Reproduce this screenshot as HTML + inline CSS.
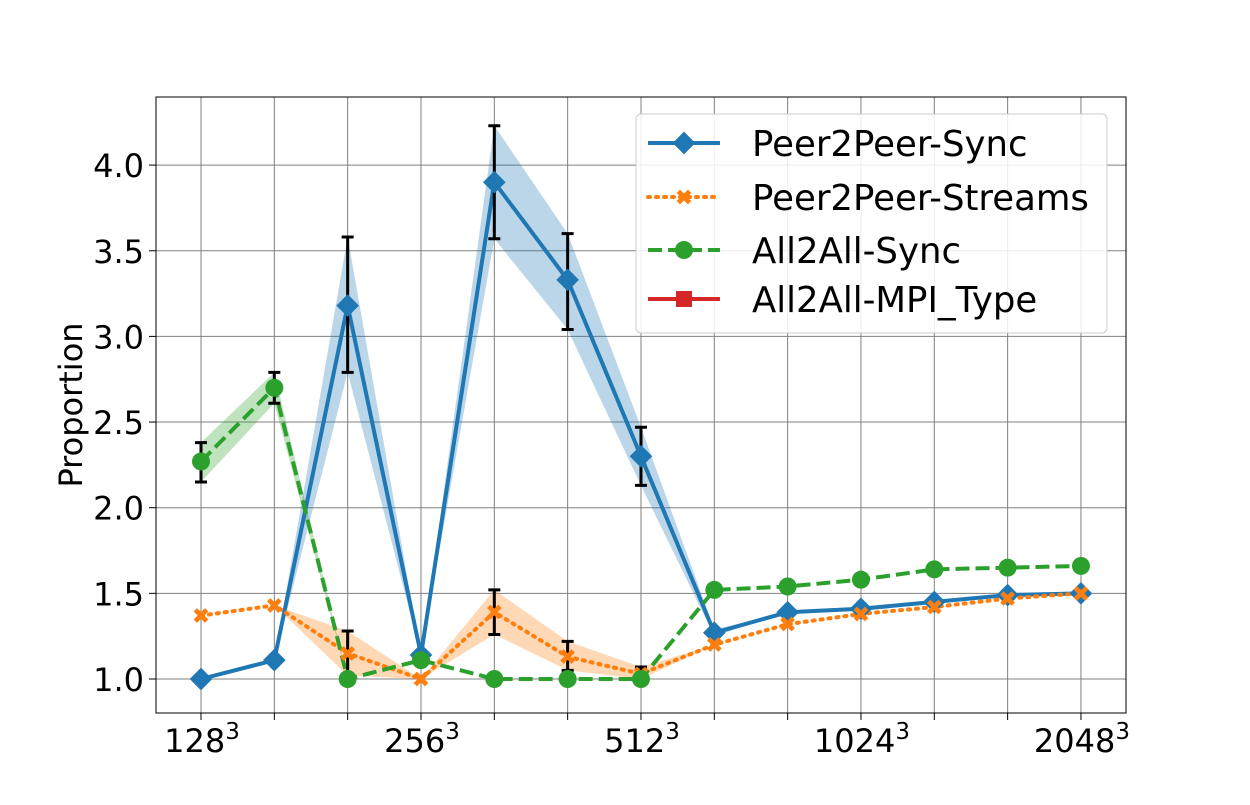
<!DOCTYPE html>
<html><head><meta charset="utf-8"><style>
body{margin:0;background:#fff}
svg text{font-family:"DejaVu Sans","Liberation Sans",sans-serif}
</style></head><body>
<svg id="chart" width="1250" height="800" xmlns="http://www.w3.org/2000/svg">
<g id="grid"></g>
<g id="bands"></g>
<g id="series"></g>
<rect x="156" y="97" width="970" height="616" fill="none" stroke="#000" stroke-width="1"/>
<g id="axes"></g>
<text x="82" y="405" font-size="32" text-anchor="middle" transform="rotate(-90 82 405)">Proportion</text>
<g>
<rect x="636" y="114" width="471" height="219" rx="5" fill="#fff" fill-opacity="0.85" stroke="#ccc"/>
<g><line x1="648" y1="143" x2="720" y2="143" stroke="#1f77b4" stroke-width="4"/><rect x="676" y="135" width="16" height="16" fill="#1f77b4" transform="rotate(45 684 143)"/><text x="752" y="156" font-size="35.5">Peer2Peer-Sync</text></g>
<g><line x1="648" y1="197" x2="720" y2="197" stroke="#ff7f0e" stroke-width="4" stroke-dasharray="2,6" stroke-linecap="round"/><text x="684" y="205" font-size="22" fill="#ff7f0e" text-anchor="middle" font-weight="bold">✖</text><text x="752" y="210" font-size="35.5">Peer2Peer-Streams</text></g>
<g><line x1="648" y1="250" x2="720" y2="250" stroke="#2ca02c" stroke-width="4" stroke-dasharray="14,6"/><circle cx="684" cy="250" r="9" fill="#2ca02c"/><text x="752" y="263" font-size="35.5">All2All-Sync</text></g>
<g><line x1="648" y1="299" x2="720" y2="299" stroke="#d62728" stroke-width="4"/><rect x="676" y="291" width="16" height="16" fill="#d62728"/><text x="752" y="312" font-size="35.5">All2All-MPI_Type</text></g>
</g>
</svg>
<script>
const xCount = 13;
const xTickLabels = ["128","256","512","1024","2048"];
const xTickLabelIdx = [0,3,6,9,12];
const yTicks = [1.0,1.5,2.0,2.5,3.0,3.5,4.0];
const p2pSync = [1.0,1.11,3.18,1.14,3.90,3.33,2.30,1.27,1.39,1.41,1.45,1.49,1.50];
const p2pSyncLo = [1.0,1.11,2.79,1.14,3.57,3.04,2.13,1.25,1.39,1.41,1.45,1.49,1.50];
const p2pSyncHi = [1.0,1.11,3.58,1.14,4.23,3.60,2.47,1.29,1.39,1.41,1.45,1.49,1.50];
const p2pStreams = [1.37,1.43,1.15,1.00,1.39,1.13,1.03,1.20,1.32,1.38,1.42,1.47,1.50];
const p2pStreamsLo = [1.37,1.43,1.02,1.00,1.26,1.05,1.00,1.20,1.32,1.38,1.42,1.47,1.50];
const p2pStreamsHi = [1.37,1.43,1.28,1.00,1.52,1.22,1.07,1.20,1.32,1.38,1.42,1.47,1.50];
const a2aSync = [2.27,2.70,1.00,1.11,1.00,1.00,1.00,1.52,1.54,1.58,1.64,1.65,1.66];
const a2aSyncLo = [2.15,2.61,1.00,1.11,1.00,1.00,1.00,1.52,1.54,1.58,1.64,1.65,1.66];
const a2aSyncHi = [2.38,2.79,1.00,1.11,1.00,1.00,1.00,1.52,1.54,1.58,1.64,1.65,1.66];

const NS="http://www.w3.org/2000/svg";
const X=i=>201+i*73.33;
const Y=v=>679-(v-1)*171.3;
function mk(parent,tag,attrs){const e=document.createElementNS(NS,tag);for(const k in attrs)e.setAttribute(k,attrs[k]);document.getElementById(parent).appendChild(e);return e;}
for(let i=0;i<xCount;i++){
  const g=mk('grid','line',{x1:X(i),x2:X(i),y1:97,y2:713,stroke:'#808080','stroke-width':1});
  
  
  const t=mk('axes','line',{x1:X(i),x2:X(i),y1:713,y2:720,stroke:'#000'});
  
  
}
xTickLabels.forEach((l,j)=>{
  const t=mk('axes','text',{x:X(xTickLabelIdx[j])+1,y:752,'font-size':32,'text-anchor':'middle'});
  t.innerHTML=l+'<tspan dy="-13" font-size="23">3</tspan>';
  
  
});
yTicks.forEach(v=>{
  const g=mk('grid','line',{x1:156,x2:1126,y1:Y(v),y2:Y(v),stroke:'#808080','stroke-width':1});
  
  
  const t=mk('axes','line',{x1:149,x2:156,y1:Y(v),y2:Y(v),stroke:'#000'});
  
  
  const l=mk('axes','text',{x:144,y:Y(v)+12,'font-size':32,'text-anchor':'end'});
  l.textContent=v.toFixed(1);
  
  
});
function band(lo,hi,color,name){
  let d='';for(let i=0;i<xCount;i++)d+=(i?'L':'M')+X(i)+','+Y(hi[i]);
  for(let i=xCount-1;i>=0;i--)d+='L'+X(i)+','+Y(lo[i]);
  const p=mk('bands','path',{d:d+'Z',fill:color,'fill-opacity':0.3});
  
  
}
band(p2pSyncLo,p2pSyncHi,'#1f77b4','p2p-sync-band');
band(p2pStreamsLo,p2pStreamsHi,'#ff7f0e','p2p-streams-band');
band(a2aSyncLo,a2aSyncHi,'#2ca02c','a2a-sync-band');
function line(vals,color,dash,name){
  const p=mk('series','polyline',{points:vals.map((v,i)=>X(i)+','+Y(v)).join(' '),fill:'none',stroke:color,'stroke-width':4,'stroke-dasharray':dash,'stroke-linecap':dash==='2,6'?'round':'butt'});
  
  
}
function errs(lo,hi,name){
  for(let i=0;i<xCount;i++){if(hi[i]-lo[i]<0.05)continue;
    const x=X(i);
    const e=mk('series','path',{d:`M${x},${Y(lo[i])}V${Y(hi[i])}M${x-6},${Y(lo[i])}h12M${x-6},${Y(hi[i])}h12`,stroke:'#000','stroke-width':3,fill:'none'});
    
    }
}
line(p2pSync,'#1f77b4','none','p2p-sync-line');
line(p2pStreams,'#ff7f0e','2,6','p2p-streams-line');
line(a2aSync,'#2ca02c','14,6','a2a-sync-line');
errs(p2pSyncLo,p2pSyncHi,'p2p-sync-errorbar');
errs(p2pStreamsLo,p2pStreamsHi,'p2p-streams-errorbar');
errs(a2aSyncLo,a2aSyncHi,'a2a-sync-errorbar');
p2pSync.forEach((v,i)=>{const m=mk('series','rect',{x:X(i)-8,y:Y(v)-8,width:16,height:16,fill:'#1f77b4',transform:`rotate(45 ${X(i)} ${Y(v)})`});
  
  });
p2pStreams.forEach((v,i)=>{const m=mk('series','text',{x:X(i),y:Y(v)+8,'font-size':22,'text-anchor':'middle',fill:'#ff7f0e','font-weight':'bold'});m.textContent='✖';
  
  });
a2aSync.forEach((v,i)=>{const m=mk('series','circle',{cx:X(i),cy:Y(v),r:9,fill:'#2ca02c'});
  
  });
</script>
</body></html>
